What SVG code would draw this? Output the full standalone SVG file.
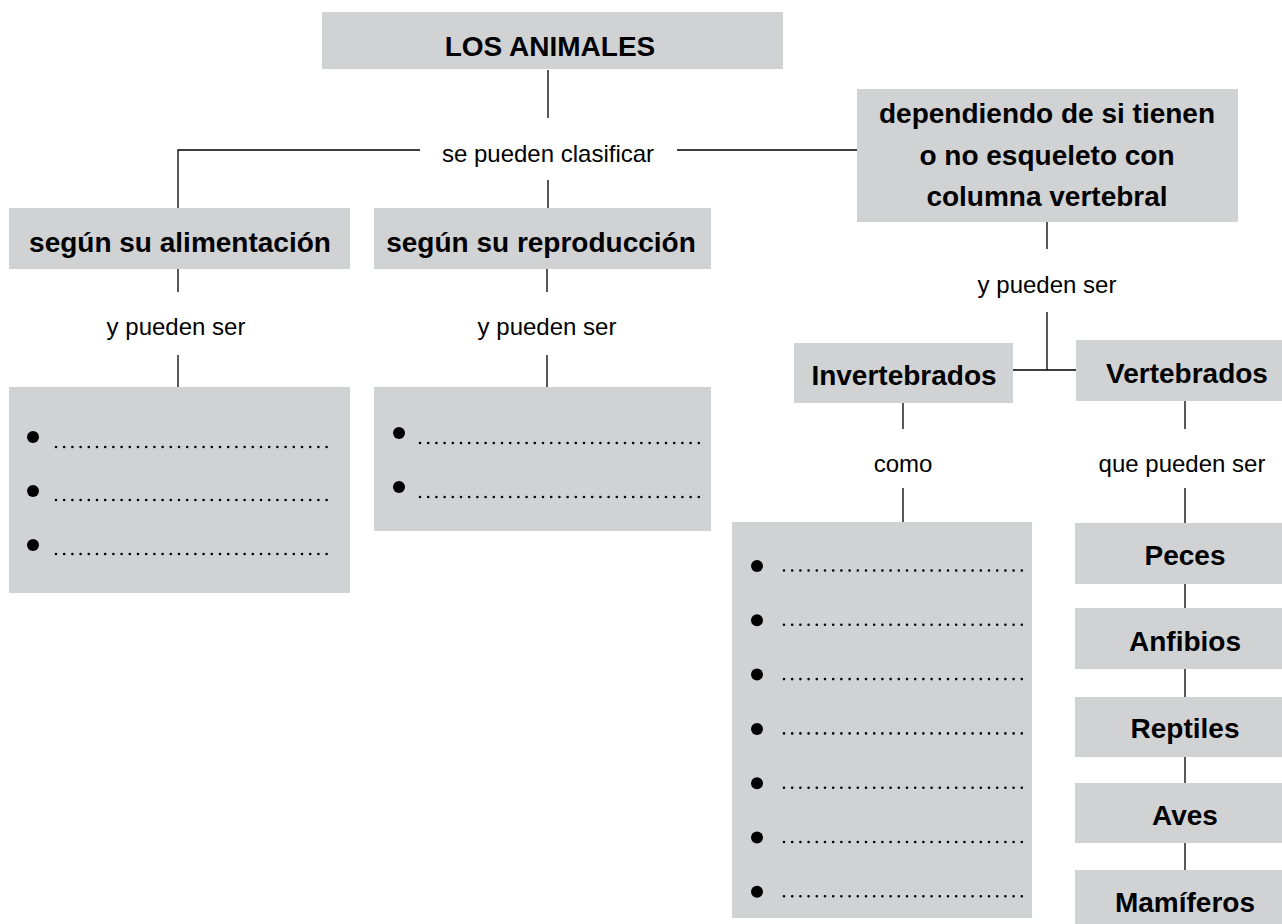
<svg xmlns="http://www.w3.org/2000/svg" width="1282" height="924" viewBox="0 0 1282 924">
<style>
.box{fill:#d1d2d4}
.h{font-family:"Liberation Sans",Arial,sans-serif;font-weight:bold;font-size:28px;fill:#000;text-anchor:middle}
.t{font-family:"Liberation Sans",Arial,sans-serif;font-size:24px;fill:#000;text-anchor:middle}
.c{stroke:#000;stroke-width:1.3;fill:none}
.dots{stroke:#000;stroke-width:2.6;stroke-linecap:round;stroke-dasharray:0 8.2;fill:none}
.b{fill:#000}
</style>
<rect width="1282" height="924" fill="#fff"/>
<g id="connectors">
<path class="c" d="M548 70V118M420 150H178V208M677 150H857M548 180V208"/>
<path class="c" d="M178 269V292M178 355V387M547 269V292M547 355V387"/>
<path class="c" d="M1047 222V249M1047 312V370M1013 370H1076"/>
<path class="c" d="M903 403V429M903 488V522M1185 401V429M1185 488V523M1185 584V608M1185 669V697M1185 757V783M1185 843V870"/>
</g>
<g id="labels">
<text class="t" x="548" y="162">se pueden clasificar</text>
<text class="t" x="176" y="335">y pueden ser</text>
<text class="t" x="547" y="335">y pueden ser</text>
<text class="t" x="1047" y="293">y pueden ser</text>
<text class="t" x="903" y="472">como</text>
<text class="t" x="1182" y="472">que pueden ser</text>
</g>
<g id="n-animales"><rect class="box" x="322" y="12" width="461" height="57"/><text class="h" x="550" y="56">LOS ANIMALES</text></g>
<g id="n-dependiendo"><rect class="box" x="857" y="89" width="381" height="133"/>
<text class="h" x="1047" y="123">dependiendo de si tienen</text>
<text class="h" x="1047" y="165">o no esqueleto con</text>
<text class="h" x="1047" y="206">columna vertebral</text></g>
<g id="n-alimentacion"><rect class="box" x="9" y="208" width="341" height="61"/><text class="h" x="180" y="252">según su alimentación</text></g>
<g id="n-reproduccion"><rect class="box" x="374" y="208" width="337" height="61"/><text class="h" x="541" y="252">según su reproducción</text></g>
<g id="n-lista1"><rect class="box" x="9" y="387" width="341" height="206"/>
<circle class="b" cx="33" cy="437" r="6"/><circle class="b" cx="33" cy="491" r="6"/><circle class="b" cx="33" cy="545" r="6"/>
<path class="dots" d="M56 447H334M56 500H334M56 554H334"/></g>
<g id="n-lista2"><rect class="box" x="374" y="387" width="337" height="144"/>
<circle class="b" cx="399" cy="433" r="6"/><circle class="b" cx="399" cy="487" r="6"/>
<path class="dots" d="M420 443H700M420 497H700"/></g>
<g id="n-invertebrados"><rect class="box" x="794" y="343" width="219" height="60"/><text class="h" x="904" y="385">Invertebrados</text></g>
<g id="n-vertebrados"><rect class="box" x="1076" y="340" width="206" height="61"/><text class="h" x="1187" y="383">Vertebrados</text></g>
<g id="n-lista3"><rect class="box" x="732" y="522" width="300" height="396"/>
<circle class="b" cx="757" cy="566" r="6"/><circle class="b" cx="757" cy="620.3" r="6"/><circle class="b" cx="757" cy="674.6" r="6"/><circle class="b" cx="757" cy="728.9" r="6"/><circle class="b" cx="757" cy="783.2" r="6"/><circle class="b" cx="757" cy="837.5" r="6"/><circle class="b" cx="757" cy="891.8" r="6"/>
<path class="dots" d="M784 570.5H1023M784 624.8H1023M784 679.1H1023M784 733.4H1023M784 787.7H1023M784 842H1023M784 896.3H1023"/></g>
<g id="n-peces"><rect class="box" x="1075" y="523" width="207" height="61"/><text class="h" x="1185" y="565">Peces</text></g>
<g id="n-anfibios"><rect class="box" x="1075" y="608" width="207" height="61"/><text class="h" x="1185" y="651">Anfibios</text></g>
<g id="n-reptiles"><rect class="box" x="1075" y="697" width="207" height="60"/><text class="h" x="1185" y="738">Reptiles</text></g>
<g id="n-aves"><rect class="box" x="1075" y="783" width="207" height="60"/><text class="h" x="1185" y="825">Aves</text></g>
<g id="n-mamiferos"><rect class="box" x="1075" y="870" width="207" height="54"/><text class="h" x="1185" y="912">Mamíferos</text></g>
</svg>
